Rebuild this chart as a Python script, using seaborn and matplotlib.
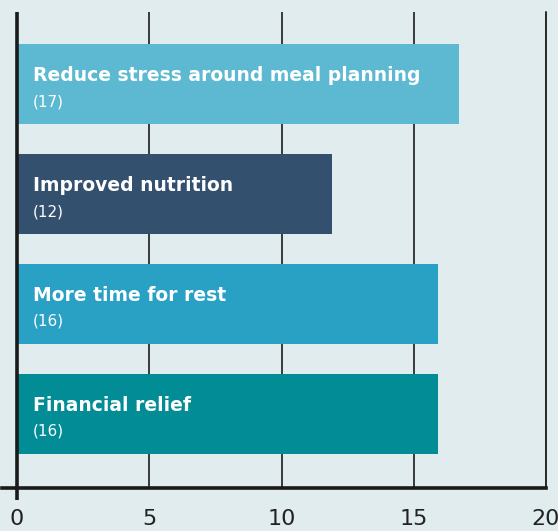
import matplotlib
matplotlib.use('Agg')
import matplotlib.pyplot as plt
import seaborn as sns

categories = ['Reduce stress around meal planning', 'Improved nutrition',
              'More time for rest', 'Financial relief']
values = [16.7, 11.9, 15.9, 15.9]
value_labels = ['(17)', '(12)', '(16)', '(16)']
bar_colors = ['#5db9d1', '#34506f', '#29a1c5', '#018c96']
x_ticks = [0, 5, 10, 15, 20]

bg = '#e1ecee'

sns.set_style('white')
plt.rcParams['font.family'] = ['DejaVu Sans']

fig = plt.figure(figsize=(5.58, 5.31), dpi=100, facecolor=bg)
ax = fig.add_axes([2 / 558, 43 / 531, 544 / 558, 476 / 531])
ax.set_facecolor(bg)

sns.barplot(x=values, y=categories, hue=categories, palette=bar_colors,
            orient='h', width=0.727, legend=False, saturation=1,
            linewidth=0, edgecolor='none', ax=ax)

ax.set_xlim(-0.57, 20)
ax.set_ylim(3.673, -0.655)
ax.set_xticks(x_ticks)
ax.set_yticks([])
ax.set_xlabel('')
ax.set_ylabel('')

ax.set_axisbelow(True)
ax.grid(axis='x', color='#3a3a3a', linewidth=1.4)
ax.grid(axis='y', visible=False)

for side in ['top', 'right', 'left']:
    ax.spines[side].set_visible(False)
ax.spines['bottom'].set_color('#1a1a1a')
ax.spines['bottom'].set_linewidth(2.6)

# left axis line at 0, running a bit below the bottom axis
ax.plot([0, 0], [-0.655, 3.78], color='#1a1a1a', linewidth=2.6,
        clip_on=False, zorder=5, solid_capstyle='butt')
ax.plot([20, 20], [-0.655, 3.673], color='#2a2a2a', linewidth=1.4,
        clip_on=False, zorder=1)

ax.tick_params(axis='x', length=0, pad=15, labelsize=16, labelcolor='#222222')

for i, (cat, lab) in enumerate(zip(categories, value_labels)):
    ax.text(0.6, i - 0.03, cat, color='white', fontsize=13.5,
            fontweight='bold', va='baseline', ha='left', zorder=6)
    ax.text(0.6, i + 0.2, lab, color='white', fontsize=11,
            va='baseline', ha='left', zorder=6)

plt.savefig('out.png', dpi=100, facecolor=bg)
